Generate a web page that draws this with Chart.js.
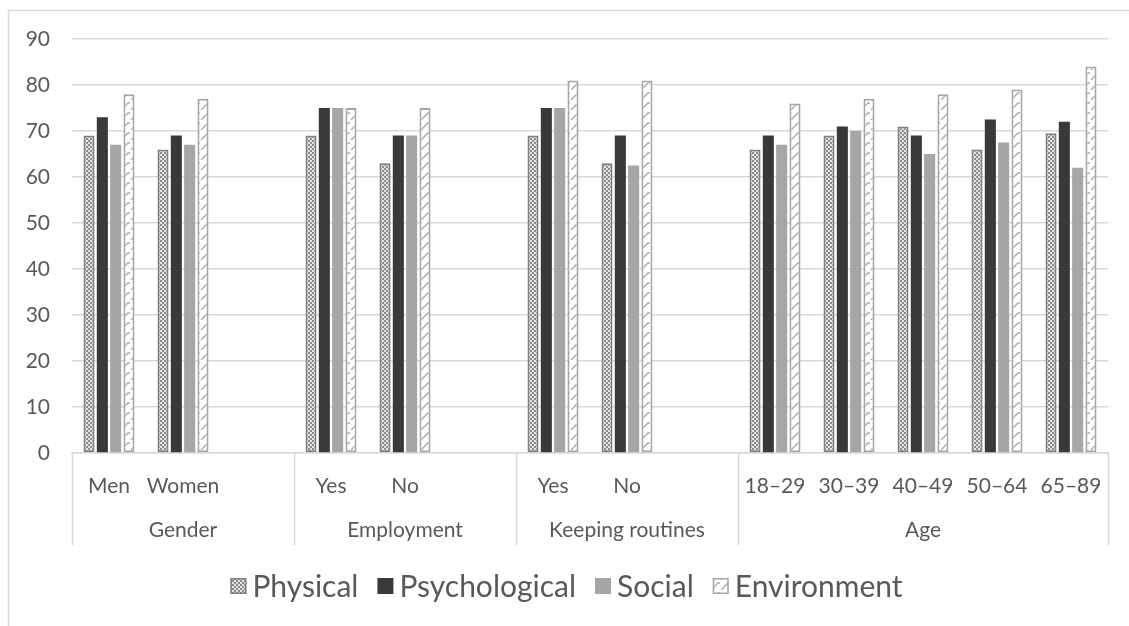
<!DOCTYPE html>
<html>
<head>
<meta charset="utf-8">
<script src="https://cdn.jsdelivr.net/npm/chart.js@4/dist/chart.umd.min.js"></script>
<style>
  html, body { margin: 0; padding: 0; background: #ffffff; }
  #wrap { width: 1129px; height: 626px; }
</style>
</head>
<body>
<div id="wrap"><canvas id="c" width="1129" height="626"></canvas></div>
<script>
// Quality-of-life domain scores by group
const categories = ['Men', 'Women', '', 'Yes', 'No', '', 'Yes', 'No', '', '18–29', '30–39', '40–49', '50–64', '65–89'];
const groupNames = ['Gender', 'Employment', 'Keeping routines', 'Age'];
const groupSpans = [3, 3, 3, 5];

const physical      = [69, 66, null, 69, 63, null, 69, 63,   null, 66, 69, 71, 66,   69.5];
const psychological = [73, 69, null, 75, 69, null, 75, 69,   null, 69, 71, 69, 72.5, 72];
const social        = [67, 67, null, 75, 69, null, 75, 62.5, null, 67, 70, 65, 67.5, 62];
const environment   = [78, 77, null, 75, 75, null, 81, 81,   null, 76, 77, 78, 79,   84];

const yTicks = [0, 10, 20, 30, 40, 50, 60, 70, 80, 90];

const FONT = 'Lato, "Open Sans", sans-serif';
const TEXT = '#595959';
const LINE = '#d9d9d9';

const canvas = document.getElementById('c');
const ctx = canvas.getContext('2d');

// Checkered fill for Physical
function checkerPattern() {
  const t = document.createElement('canvas');
  t.width = 4; t.height = 4;
  const g = t.getContext('2d');
  g.fillStyle = '#e2e2e2'; g.fillRect(0, 0, 4, 4);
  g.fillStyle = '#8c8c8c'; g.fillRect(0, 0, 2, 2); g.fillRect(2, 2, 2, 2);
  return ctx.createPattern(t, 'repeat');
}
// Dashed upward diagonals for Environment
function diagonalPattern() {
  const t = document.createElement('canvas');
  t.width = 10; t.height = 10;
  const g = t.getContext('2d');
  g.fillStyle = '#ffffff'; g.fillRect(0, 0, 10, 10);
  g.strokeStyle = '#ababab'; g.lineWidth = 1.4;
  g.beginPath(); g.moveTo(1, 10); g.lineTo(8, 3); g.lineTo(10, 3); g.stroke();
  return ctx.createPattern(t, 'repeat');
}

const series = [
  { label: 'Physical',      data: physical,      fill: checkerPattern(),  border: '#7f7f7f', bw: 2 },
  { label: 'Psychological', data: psychological, fill: '#3b3838',         border: '#3b3838', bw: 0 },
  { label: 'Social',        data: social,        fill: '#a6a6a6',         border: '#a6a6a6', bw: 0 },
  { label: 'Environment',   data: environment,   fill: diagonalPattern(), border: '#a6a6a6', bw: 2 }
];

// Frame, group labels, separators and legend
const decor = {
  id: 'decor',
  beforeDraw(chart) {
    const c = chart.ctx;
    c.save();
    c.fillStyle = '#ffffff';
    c.fillRect(0, 0, chart.width, chart.height);
    c.strokeStyle = LINE; c.lineWidth = 1.5;
    c.beginPath();
    c.moveTo(8.5, chart.height); c.lineTo(8.5, 10.5); c.lineTo(chart.width, 10.5);
    c.stroke();
    c.restore();
  },
  afterDraw(chart) {
    const c = chart.ctx;
    const x = chart.scales.x;
    const area = chart.chartArea;
    const step = (area.right - area.left) / categories.length;
    const sepBottom = 545;
    c.save();
    c.strokeStyle = LINE; c.lineWidth = 1.5;
    let idx = 0;
    const bounds = [area.left];
    groupSpans.forEach(s => { idx += s; bounds.push(x.getPixelForValue(idx - 1) + step / 2); });
    bounds.forEach(bx => {
      c.beginPath(); c.moveTo(Math.round(bx) + 0.5, area.bottom); c.lineTo(Math.round(bx) + 0.5, sepBottom); c.stroke();
    });
    c.fillStyle = TEXT;
    c.font = '21px ' + FONT;
    c.textAlign = 'center'; c.textBaseline = 'middle';
    groupNames.forEach((g, i) => {
      c.fillText(g, (bounds[i] + bounds[i + 1]) / 2, 530);
    });

    // legend
    c.font = '30px ' + FONT;
    const box = 16, gapText = 6, gapItem = 19;
    const widths = series.map(s => box + gapText + c.measureText(s.label).width);
    const total = widths.reduce((a, b) => a + b, 0) + gapItem * (series.length - 1);
    let lx = chart.width / 2 - total / 2 + 2;
    const ly = 586;
    c.textAlign = 'left';
    series.forEach((s, i) => {
      c.fillStyle = s.fill;
      c.fillRect(lx, ly - box / 2, box, box);
      if (s.bw) {
        c.strokeStyle = s.border; c.lineWidth = 1.5;
        c.strokeRect(lx + 0.75, ly - box / 2 + 0.75, box - 1.5, box - 1.5);
      }
      c.fillStyle = TEXT;
      c.fillText(s.label, lx + box + gapText, ly + 1);
      lx += widths[i] + gapItem;
    });
    c.restore();
  }
};

new Chart(ctx, {
  type: 'bar',
  data: {
    labels: categories,
    datasets: series.map(s => ({
      label: s.label,
      data: s.data,
      backgroundColor: s.fill,
      borderColor: s.border,
      borderWidth: s.bw,
      borderSkipped: false,
      categoryPercentage: 0.72,
      barPercentage: 0.83
    }))
  },
  options: {
    responsive: false,
    animation: false,
    devicePixelRatio: 1,
    layout: { padding: { top: 39, left: 0, right: 21, bottom: 81 } },
    plugins: { legend: { display: false }, tooltip: { enabled: false } },
    scales: {
      x: {
        grid: { display: false },
        border: { display: true, color: LINE, width: 1.5 },
        ticks: {
          autoSkip: false, maxRotation: 0, minRotation: 0,
          color: TEXT, font: { family: FONT, size: 21 }, padding: 13
        },
        afterFit(scale) { scale.height = 92; }
      },
      y: {
        min: 0, max: 90,
        afterBuildTicks(scale) { scale.ticks = yTicks.map(v => ({ value: v })); },
        grid: { color: LINE, lineWidth: 1.5, drawTicks: false },
        border: { display: false },
        ticks: { color: TEXT, font: { family: FONT, size: 21 }, padding: 22 },
        afterFit(scale) { scale.width = 72; }
      }
    }
  },
  plugins: [decor]
});
</script>
</body>
</html>
